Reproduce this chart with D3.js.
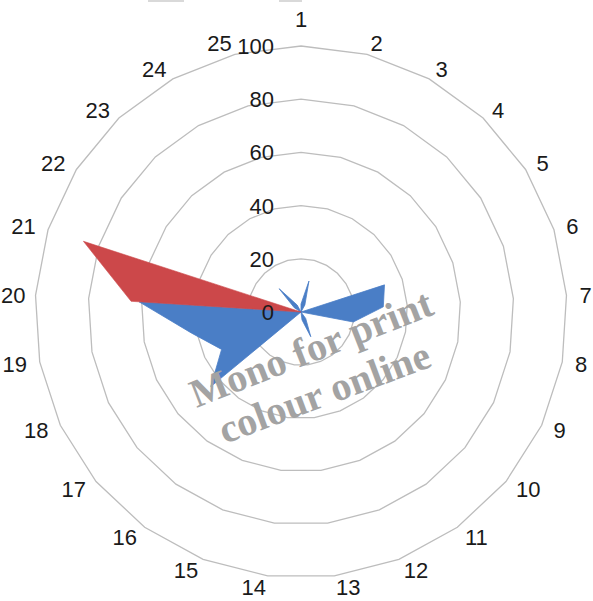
<!DOCTYPE html>
<html>
<head>
<meta charset="utf-8">
<script src="https://cdn.jsdelivr.net/npm/d3@7"></script>
<style>
  html, body { margin: 0; padding: 0; background: #fff; }
  svg { display: block; }
</style>
</head>
<body>
<svg id="chart" width="593" height="601"></svg>
<script>
// ---- data ----
const categories = ["1","2","3","4","5","6","7","8","9","10","11","12","13","14","15","16","17","18","19","20","21","22","23","24","25"];
const seriesBlue = [3,12,3,0,0,33,31,20,0,0,3,10,3,0,0,0,44,33,42,61,0,3,12,3,0];
const seriesRed  = [0,0,0,0,0,0,0,0,0,0,0,0,0,0,0,0,0,0,0,64,86,0,0,0,0];
const tickValues = [0,20,40,60,80,100];
const watermarkLines = ["Mono for print", "colour online"];

// ---- layout ----
const W = 593;
const cx = 301, cy = 312, R = 266;
const svg = d3.select("#chart");

// legend remnants at top edge
svg.append("rect").attr("x",148).attr("y",0).attr("width",36).attr("height",2).attr("fill","#d9d9d9");
svg.append("rect").attr("x",279).attr("y",0).attr("width",23).attr("height",2).attr("fill","#d9d9d9");

const n = categories.length;
const r = d3.scaleLinear().domain([0,100]).range([0,R]);
const ang = d3.scaleLinear().domain([0,n]).range([0,2*Math.PI]);

const g = svg.append("g").attr("transform",`translate(${cx},${cy})`);

// grid polygons
const ringLine = d3.lineRadial()
  .angle((d,i)=>ang(i))
  .radius(d=>r(d))
  .curve(d3.curveLinearClosed);

g.selectAll("path.grid")
  .data(tickValues.filter(v=>v>0))
  .join("path")
  .attr("class","grid")
  .attr("d", v => ringLine(categories.map(()=>v)))
  .attr("fill","none")
  .attr("stroke","#bdbdbd")
  .attr("stroke-width",1.3);

// series
const seriesLine = d3.lineRadial()
  .angle((d,i)=>ang(i))
  .radius(d=>r(d))
  .curve(d3.curveLinearClosed);

g.append("path")
  .attr("d", seriesLine(seriesBlue))
  .attr("fill","#4A7EC6")
  .attr("stroke","#4A7EC6")
  .attr("stroke-width",0.8);

g.append("path")
  .attr("d", seriesLine(seriesRed))
  .attr("fill","#CC484A")
  .attr("stroke","#CC484A")
  .attr("stroke-width",0.6);

// tick labels
g.selectAll("text.tick")
  .data(tickValues)
  .join("text")
  .attr("class","tick")
  .attr("x",-27)
  .attr("y",v=>-r(v))
  .attr("dy","0.36em")
  .attr("text-anchor","end")
  .attr("font-family","Liberation Sans, Arial, sans-serif")
  .attr("font-size",22)
  .attr("fill","#1a1a1a")
  .text(v=>v);

// category labels
const gx = 13, gy = 11.6, boxH = 27, vGap = 13;
const cat = g.selectAll("text.cat")
  .data(categories)
  .join("text")
  .attr("class","cat")
  .attr("text-anchor","middle")
  .attr("dy","0.36em")
  .attr("font-family","Liberation Sans, Arial, sans-serif")
  .attr("font-size",22)
  .attr("fill","#1a1a1a")
  .text(d=>d);

cat.each(function(d,i){
  const w = this.getComputedTextLength();
  const a = ang(i);
  const s = Math.sin(a), c = Math.cos(a);
  const vx = R*s, vy = -R*c;
  let ox, oy;
  if (Math.abs(s) < 0.05) {          // label on a vertical axis
    ox = 0;
    oy = -Math.sign(c)*(vGap + boxH/2);
  } else {
    ox = Math.sign(s)*w/2 + s*gx;
    oy = -c*gy;
  }
  let x = vx + ox;
  // keep the label inside the picture
  const minX = -cx + w/2 + 1, maxX = W - cx - w/2 - 1;
  x = Math.max(minX, Math.min(maxX, x));
  d3.select(this).attr("x", x).attr("y", vy+oy);
});

// watermark
const wm = [
  {text: watermarkLines[0], x: 316, y: 361, rot: -21.5},
  {text: watermarkLines[1], x: 329, y: 405, rot: -20.5}
];
svg.selectAll("text.wm")
  .data(wm)
  .join("text")
  .attr("class","wm")
  .attr("transform",d=>`translate(${d.x},${d.y}) rotate(${d.rot})`)
  .attr("text-anchor","middle")
  .attr("font-family","Liberation Serif, Times New Roman, serif")
  .attr("font-weight","bold")
  .attr("font-size",40)
  .attr("fill","#a3a3a3")
  .text(d=>d.text);
</script>
</body>
</html>
